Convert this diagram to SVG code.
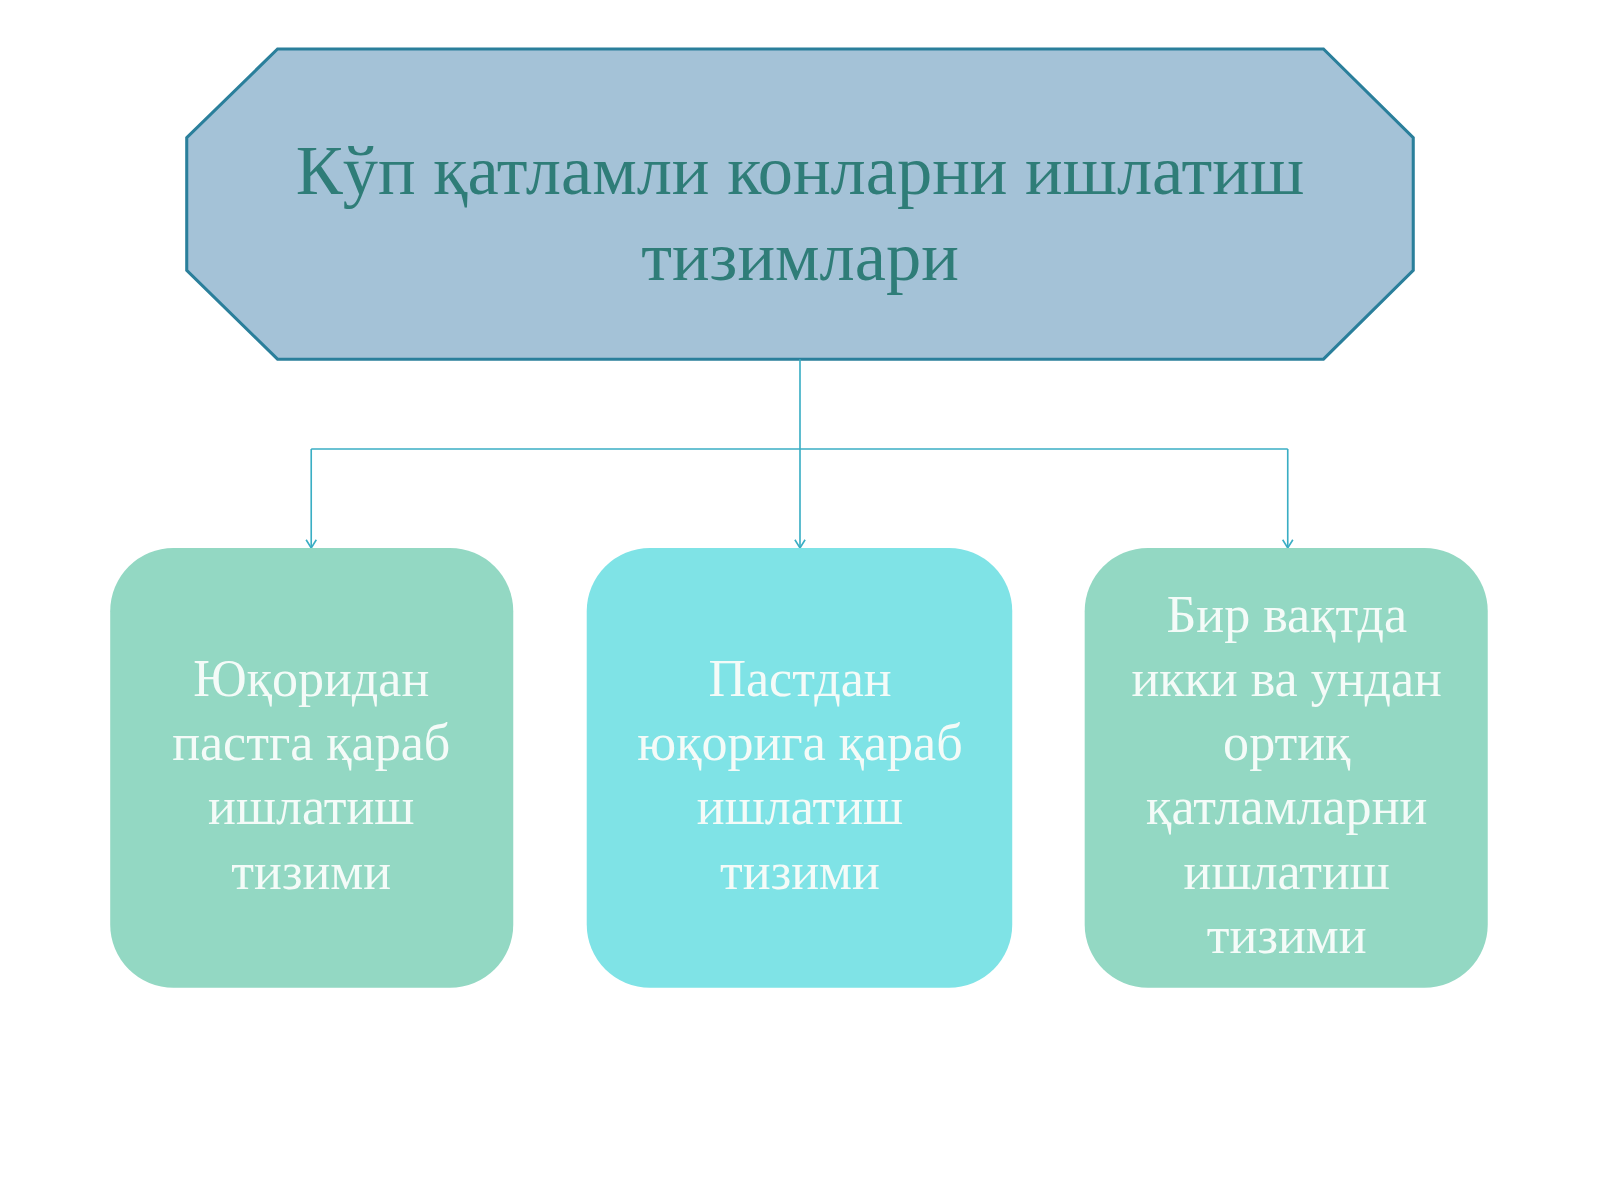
<svg xmlns="http://www.w3.org/2000/svg" width="1600" height="1200" viewBox="0 0 1600 1200">
<style>
.t{font-family:"Liberation Serif",serif;text-anchor:middle}
.title{font-size:69px;fill:#2f7d78}
.lbl{font-size:51px;fill:#f4fbf8}
.c{stroke:#3aaec4;stroke-width:1.6;fill:none}
</style>
<defs><marker id="a" viewBox="0 0 10 12" refX="9" refY="6" markerWidth="10" markerHeight="12" orient="auto" markerUnits="userSpaceOnUse"><path d="M1,1 L9,6 L1,11" fill="none" stroke="#3aaec4" stroke-width="1.6"/></marker></defs>
<rect width="1600" height="1200" fill="#fff"/>
<g transform="scale(1.0204)">
<g id="top">
<polygon points="272,48 1297,48 1385,135 1385,265 1297,352 272,352 183,265 183,135" fill="#a4c2d7" stroke="#2a7f9b" stroke-width="3"/>
<text class="t title" x="784" y="190">Кўп қатламли конларни ишлатиш</text>
<text class="t title" x="784" y="274">тизимлари</text>
</g>
<g id="connectors">
<path class="c" d="M784,352 V537" marker-end="url(#a)"/>
<path class="c" d="M305,440 H1262"/>
<path class="c" d="M305,440 V537" marker-end="url(#a)"/>
<path class="c" d="M1262,440 V537" marker-end="url(#a)"/>
</g>
<g id="n1">
<rect x="108" y="537" width="395" height="431" rx="62" fill="#93d8c3"/>
<text class="t lbl" x="305" y="682">Юқоридан</text>
<text class="t lbl" x="305" y="745">пастга қараб</text>
<text class="t lbl" x="305" y="808">ишлатиш</text>
<text class="t lbl" x="305" y="871">тизими</text>
</g>
<g id="n2">
<rect x="575" y="537" width="417" height="431" rx="62" fill="#7fe3e6"/>
<text class="t lbl" x="784" y="682">Пастдан</text>
<text class="t lbl" x="784" y="745">юқорига қараб</text>
<text class="t lbl" x="784" y="808">ишлатиш</text>
<text class="t lbl" x="784" y="871">тизими</text>
</g>
<g id="n3">
<rect x="1063" y="537" width="395" height="431" rx="62" fill="#93d8c3"/>
<text class="t lbl" x="1261" y="619">Бир вақтда</text>
<text class="t lbl" x="1261" y="682">икки ва ундан</text>
<text class="t lbl" x="1261" y="745">ортиқ</text>
<text class="t lbl" x="1261" y="808">қатламларни</text>
<text class="t lbl" x="1261" y="871">ишлатиш</text>
<text class="t lbl" x="1261" y="934">тизими</text>
</g>
</g>
</svg>
